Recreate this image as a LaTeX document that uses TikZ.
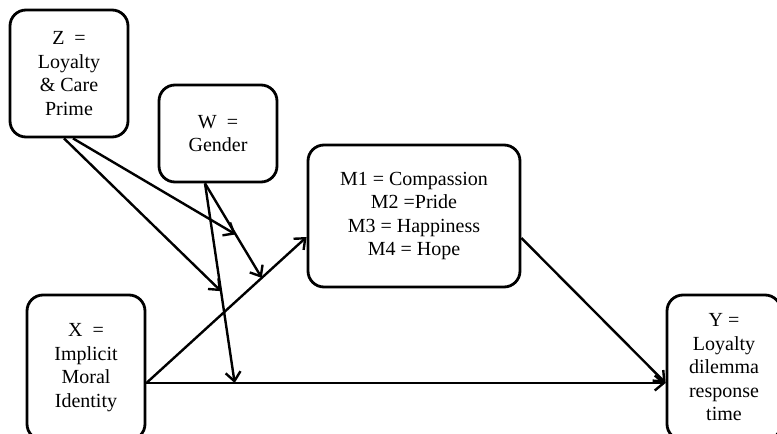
\documentclass[tikz,border=0pt]{standalone}
\usepackage{fontspec}
\setmainfont{Liberation Serif}
\usetikzlibrary{arrows.meta}
\tikzset{
  modelbox/.style={
    draw, line width=2.8pt, rounded corners=16pt, align=center,
    font=\fontsize{20}{23.5}\selectfont, inner sep=0pt, fill=white
  },
  modelarrow/.style={
    -{Straight Barb[length=9pt,width=15pt]}, line width=2.4pt
  },
}
\begin{document}
\begin{tikzpicture}[x=1pt,y=-1pt]
  \useasboundingbox (0,0) rectangle (777,434);
  \clip (0,0) rectangle (777,434);

  % --- Variables ---
  \node[modelbox, minimum width=118pt, minimum height=127pt] (z) at (69,73.5)
    {Z\ \ =\\Loyalty\\\& Care\\Prime};
  \node[modelbox, minimum width=118pt, minimum height=97pt] (w) at (218,133.5)
    {W\ \ =\\Gender};
  \node[modelbox, minimum width=212pt, minimum height=142pt] (m) at (414,216)
    {M1 = Compassion\\M2 =Pride\\M3 = Happiness\\M4 = Hope};
  \node[modelbox, minimum width=118pt, minimum height=145pt] (x) at (86,367.5)
    {X\ \ =\\Implicit\\Moral\\Identity};
  \node[modelbox, minimum width=114pt, minimum height=145pt] (y) at (724,367.5)
    {Y =\\Loyalty\\dilemma\\response\\time};

  % --- Paths ---
  \draw[modelarrow] ([yshift=-15.5pt]x.east) -- ([yshift=-21pt]m.west)
    coordinate[pos=0.72] (xmmid);
  \draw[modelarrow] ([yshift=-15.5pt]x.east) -- ([yshift=-15.5pt]y.west)
    coordinate[pos=0.17] (xymid);
  \draw[modelarrow] ([yshift=-22pt]m.east) -- ([yshift=-15.5pt]y.west);

  % --- Moderation by W ---
  \draw[modelarrow] ([xshift=-13pt]w.south) -- (xmmid)
    coordinate[pos=0.54] (wmmid);
  \draw[modelarrow] ([xshift=-13pt]w.south) -- (xymid)
    coordinate[pos=0.54] (wymid);

  % --- Moderation by Z ---
  \draw[modelarrow] ([xshift=4pt]z.south) -- (wmmid);
  \draw[modelarrow] ([xshift=-5pt]z.south) -- (wymid);
\end{tikzpicture}
\end{document}
